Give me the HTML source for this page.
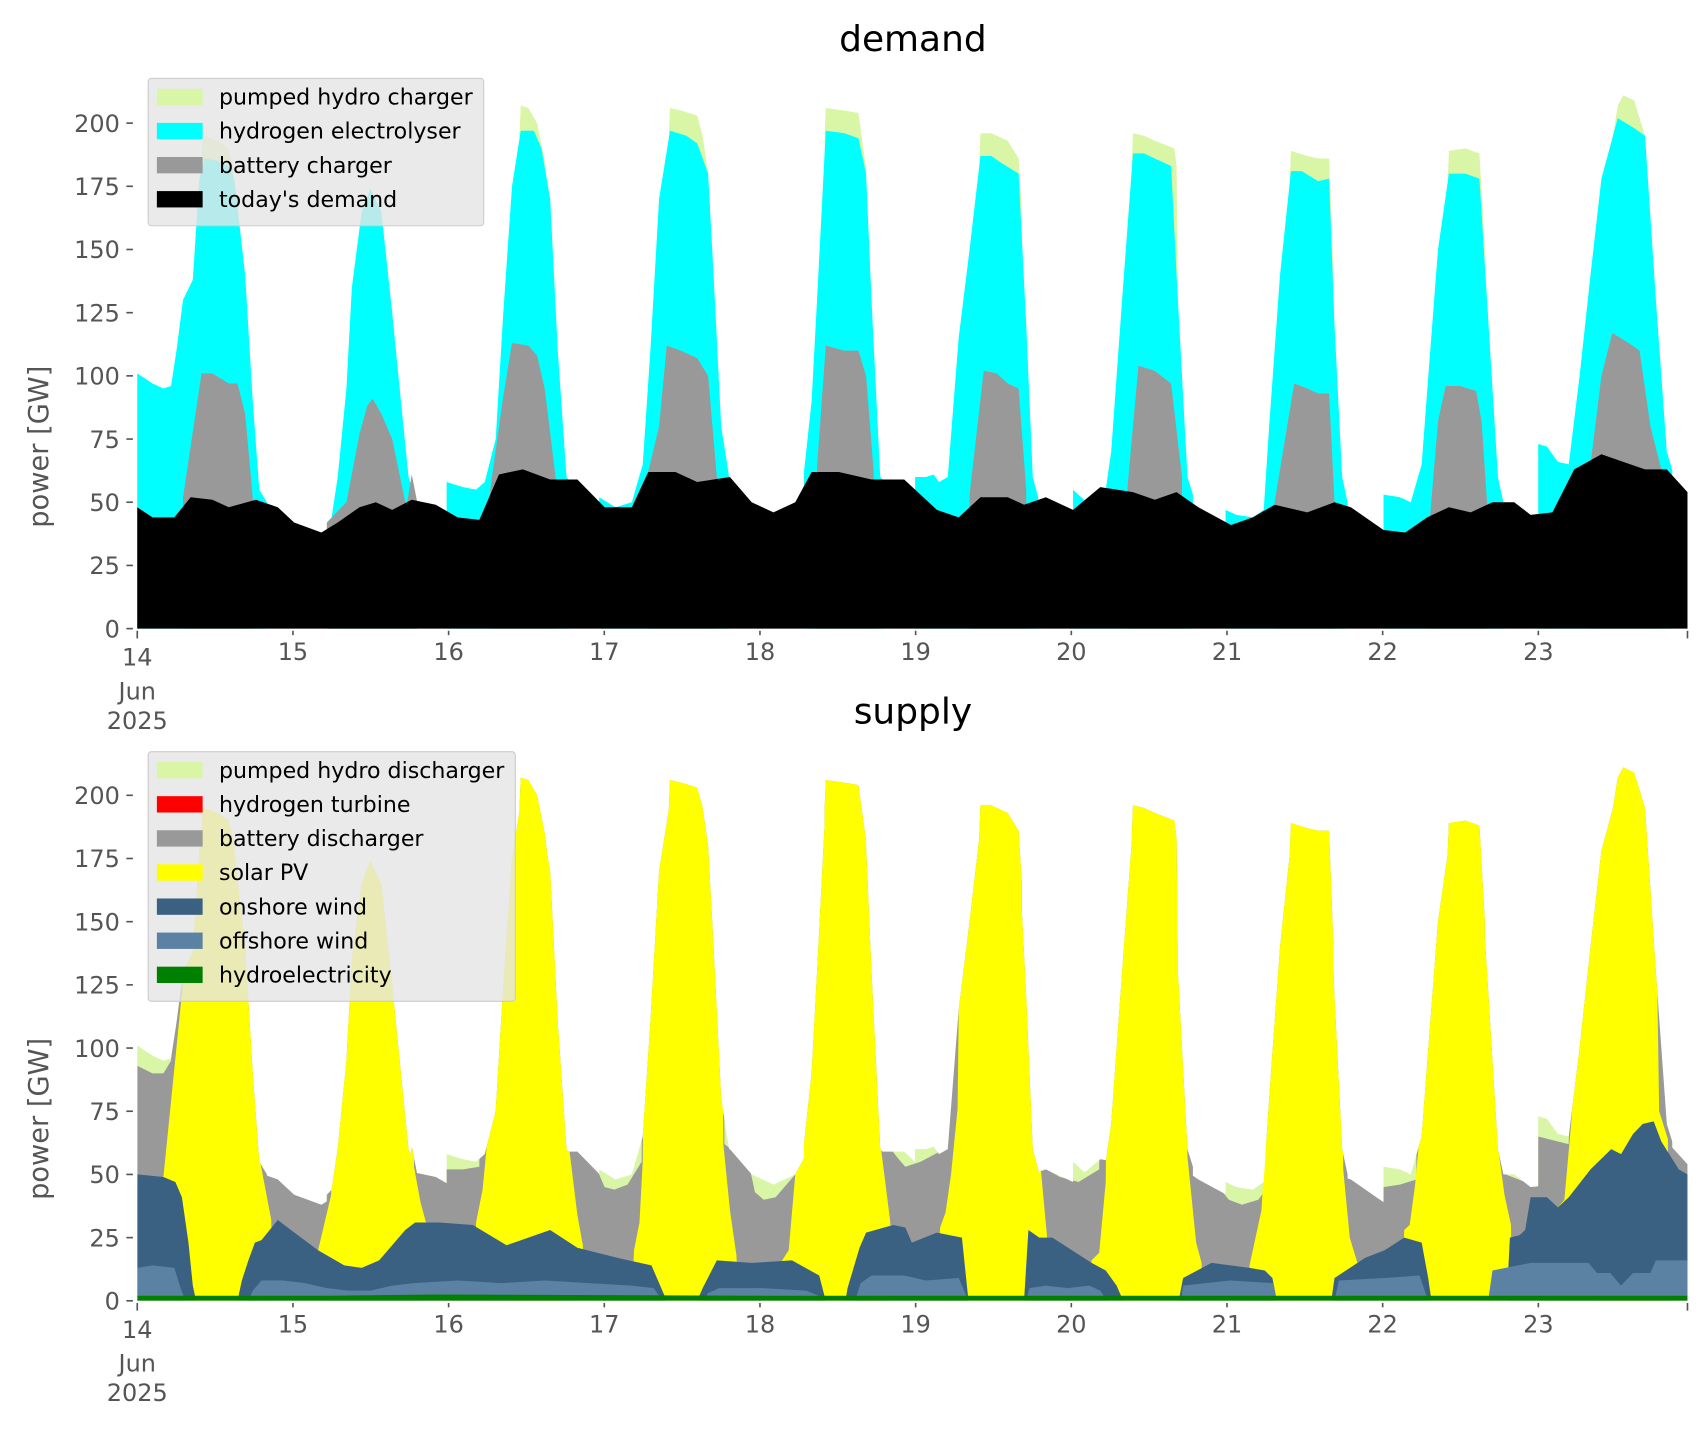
<!DOCTYPE html>
<html><head><meta charset="utf-8"><style>
html,body{margin:0;padding:0;background:#fff;}
svg{display:block;}
text{font-family:"DejaVu Sans","Liberation Sans",sans-serif;}
</style></head><body>
<svg id="s" xmlns="http://www.w3.org/2000/svg" width="1706" height="1431" viewBox="0 0 1566 1313.5" preserveAspectRatio="none"></svg>
<script>
const S=2.32;
function poly(pts,base,fill,extra){
  let p=pts.map(a=>a[0]+','+(base-a[1]*S).toFixed(1));
  p.push(pts[pts.length-1][0]+','+base); p.unshift(pts[0][0]+','+base);
  return `<polygon points="${p.join(' ')}" fill="${fill}" ${extra||''}/>`;
}
const black=[[126,48],[140,44],[160,44],[175,52],[195,51],[210,48],[235,51],[255,48],[270,42],[295,38],[310,42],[330,48],[345,50],[360,47],[378,51],[400,49],[420,44],[440,43],[458,61],[480,63],[505,59],[530,59],[555,48],[580,48],[595,62],[620,62],[640,58],[670,60],[690,50],[710,46],[730,50],[745,62],[770,62],[800,59],[830,59],[860,47],[880,44],[900,52],[925,52],[940,49],[960,52],[985,47],[1010,56],[1040,54],[1060,51],[1080,54],[1100,48],[1130,41],[1150,44],[1170,49],[1200,46],[1225,50],[1240,48],[1270,39],[1290,38],[1310,44],[1330,48],[1350,46],[1370,50],[1390,50],[1405,45],[1425,46],[1445,63],[1470,69],[1490,66],[1510,63],[1530,63],[1549,54]];
const cyan=[
[[126,101],[140,97],[150,95],[157,96],[162,110],[168,130],[177,138],[183,178],[188,186],[200,185],[210,183],[215,178],[225,140],[232,90],[238,55],[245,50]],
[[303,40],[310,60],[318,95],[323,135],[332,165],[340,174],[350,165],[360,125],[368,90],[375,60],[383,49]],
[[410,58],[425,56],[437,55],[445,58],[455,75],[462,125],[470,175],[478,197],[490,197],[497,190],[505,170],[512,110],[520,60],[525,57]],
[[550,52],[565,48],[580,50],[590,65],[597,110],[605,170],[615,197],[630,195],[640,192],[650,180],[655,140],[662,80],[670,58]],
[[738,62],[745,90],[750,130],[758,197],[775,196],[788,194],[795,180],[800,130],[808,60],[812,58]],
[[840,60],[850,60],[857,61],[862,58],[870,60],[880,115],[890,150],[900,187],[910,187],[920,184],[935,180],[942,120],[948,60],[953,52]],
[[985,55],[995,51],[1005,50],[1015,55],[1020,70],[1030,130],[1040,188],[1050,188],[1060,186],[1075,183],[1080,140],[1090,60],[1095,53]],
[[1125,47],[1135,45],[1150,44],[1160,47],[1165,80],[1175,140],[1185,181],[1195,181],[1210,177],[1220,178],[1225,120],[1232,60],[1237,50]],
[[1270,53],[1285,52],[1295,50],[1305,65],[1312,105],[1320,150],[1330,180],[1345,180],[1358,178],[1365,130],[1375,60],[1380,50]],
[[1412,73],[1420,72],[1430,66],[1440,65],[1450,100],[1460,140],[1470,178],[1485,202],[1500,198],[1510,195],[1520,130],[1530,70],[1535,63]]];
const gray=[
[[168,52],[185,101],[195,101],[210,97],[218,97],[225,85],[232,52]],
[[300,42],[318,50],[330,77],[337,88],[342,91],[350,85],[360,75],[373,48],[378,61],[383,50]],
[[450,55],[462,92],[470,113],[485,112],[493,108],[500,95],[510,60]],
[[595,62],[605,80],[612,112],[625,110],[640,107],[650,100],[658,60]],
[[750,64],[758,112],[775,110],[788,110],[795,100],[802,62]],
[[890,53],[903,102],[915,101],[925,97],[935,95],[942,55]],
[[1035,56],[1045,104],[1060,102],[1075,97],[1085,60]],
[[1170,50],[1188,97],[1200,95],[1210,93],[1220,93],[1225,50]],
[[1313,46],[1320,82],[1327,96],[1340,96],[1355,94],[1360,82],[1365,50]],
[[1460,65],[1470,100],[1480,117],[1495,113],[1505,110],[1515,80],[1525,63]]];
const pump=[
[[185,180],[186,195],[200,193],[210,190],[215,180]],
[[477,196],[478,207],[485,206],[493,200],[500,185],[502,178]],
[[614,195],[615,206],[625,205],[640,203],[645,195],[650,180]],
[[757,195],[758,206],[775,205],[788,204],[795,182]],
[[899,185],[900,196],[910,196],[925,193],[935,186],[938,165]],
[[1039,185],[1040,196],[1050,195],[1060,193],[1078,190],[1080,183],[1081,140]],
[[1184,178],[1185,189],[1200,187],[1210,186],[1220,186],[1224,140]],
[[1329,178],[1330,189],[1345,190],[1358,188],[1363,150]],
[[1477,185],[1485,207],[1490,211],[1500,209],[1510,195],[1515,160]]];
const PG='#d9f5a6';
function demandShapes(base,cP,cC,cG,cB,extra){
  let o='';
  pump.forEach(a=>o+=poly(a,base,cP,extra));
  cyan.forEach(a=>o+=poly(a,base,cC,extra));
  gray.forEach(a=>o+=poly(a,base,cG,extra));
  o+=poly(black,base,cB,extra);
  return o;
}
let h='';
h+=`<defs><clipPath id="tot">${demandShapes(1194,'#000','#000','#000','#000','')}</clipPath></defs>`;
h+=demandShapes(577,PG,'#00ffff','#999999','#000000','');
const B=1194;
h+=demandShapes(B,PG,PG,PG,PG,'');
const bgray=[[126,93],[140,90],[150,90],[157,95],[163,140],[168,300],[398,300],[404,52],[425,52],[440,53],[446,300],[540,300],[547,53],[555,45],[564,44],[576,46],[589,55],[592,300],[660,300],[665,62],[687,55],[693,43],[701,40],[712,41],[730,50],[738,300],[805,300],[807,66],[825,56],[831,53],[845,55],[867,60],[872,300],[950,300],[956,53],[973,49],[990,47],[1009,52],[1015,300],[1095,300],[1100,50],[1115,47],[1128,40],[1140,38],[1155,40],[1162,44],[1166,300],[1237,300],[1240,49],[1255,47],[1270,45],[1285,46],[1300,48],[1305,300],[1378,300],[1382,50],[1400,47],[1410,45],[1412,65],[1430,63],[1440,62],[1448,300],[1549,300]];
h+=`<g clip-path="url(#tot)">`+poly(bgray,B,'#999999');
const yel=[
[[148,0],[150,49],[168,126],[172,300],[236,300],[238,57],[249,32],[250,0]],
[[290,0],[292,20],[304,42],[308,300],[376,300],[380,53],[386,39],[391,31],[392,0]],
[[435,0],[437,31],[443,44],[453,89],[458,300],[518,300],[522,62],[530,34],[535,22],[537,0]],
[[580,0],[582,20],[587,31],[590,55],[594,300],[660,300],[664,62],[670,36],[676,18],[678,0]],
[[716,0],[718,16],[724,20],[730,50],[735,300],[803,300],[807,66],[817,32],[822,0]],
[[860,0],[863,29],[868,35],[873,50],[879,76],[885,300],[946,300],[950,65],[955,54],[961,26],[962,0]],
[[1000,0],[1002,16],[1009,19],[1015,47],[1020,300],[1086,300],[1090,57],[1098,23],[1103,15],[1104,0]],
[[1145,0],[1147,14],[1158,36],[1161,59],[1166,300],[1229,300],[1233,52],[1239,25],[1246,15],[1248,0]],
[[1287,0],[1289,28],[1294,30],[1299,46],[1305,74],[1310,300],[1370,300],[1375,61],[1381,42],[1387,30],[1388,0]],
[[1428,0],[1430,37],[1436,40],[1442,69],[1449,111],[1458,153],[1465,300],[1515,300],[1523,75],[1531,64],[1532,0]]];
yel.forEach(a=>h+=poly(a,B,'#ffff00'));
const on=[
[[126,50],[150,49],[161,47],[167,41],[173,23],[177,6],[180,0]],
[[218,0],[222,8],[228,16],[234,23],[240,24],[255,32],[267,28],[292,20],[316,14],[332,13],[348,16],[372,28],[381,31],[403,31],[434,30],[465,22],[505,28],[530,21],[567,17],[598,14],[604,8],[612,0]],
[[640,0],[645,5],[658,16],[690,15],[727,16],[752,10],[758,0]],
[[776,0],[778,5],[789,21],[795,27],[820,30],[831,29],[837,23],[860,27],[883,25],[889,0]],
[[940,0],[944,28],[954,25],[966,25],[1002,15],[1015,12],[1025,6],[1031,0]],
[[1082,0],[1086,9],[1112,15],[1147,13],[1161,12],[1168,9],[1172,0]],
[[1222,0],[1225,9],[1232,11],[1253,17],[1271,20],[1289,25],[1305,23],[1311,9],[1314,0]],
[[1383,0],[1386,25],[1395,26],[1400,28],[1405,41],[1420,41],[1430,37],[1440,41],[1460,52],[1479,60],[1488,58],[1499,66],[1508,70],[1518,71],[1525,63],[1541,52],[1549,50]]];
on.forEach(a=>h+=poly(a,B,'#3b6182'));
const off=[
[[126,13],[140,14],[160,13],[165,6],[170,0]],
[[228,0],[232,4],[240,8],[260,8],[280,7],[300,5],[320,4],[340,4],[360,6],[380,7],[420,8],[460,7],[500,8],[540,7],[580,6],[600,5],[605,2],[612,0]],
[[645,0],[650,3],[660,5],[700,5],[740,4],[757,1],[758,0]],
[[785,0],[790,7],[800,10],[830,10],[850,8],[880,9],[889,0]],
[[942,0],[945,5],[960,6],[980,5],[1000,6],[1010,4],[1016,0]],
[[1084,0],[1086,6],[1129,8],[1169,7],[1172,0]],
[[1225,0],[1229,8],[1271,9],[1303,10],[1311,0]],
[[1366,0],[1370,12],[1405,15],[1458,15],[1466,11],[1478,11],[1488,6],[1499,11],[1515,11],[1520,16],[1549,16]]];
off.forEach(a=>h+=poly(a,B,'#5b82a3'));
h+=poly([[126,2],[300,2],[400,2.5],[700,2],[1000,2],[1300,2],[1549,2]],B,'#008000');
h+='</g>';
function axes(base,title,ty){
  let o=`<text x="838" y="${ty}" font-size="33" text-anchor="middle" fill="#000">${title}</text>`;
  for(let v=0;v<=200;v+=25){const y=base-v*S;
    o+=`<line x1="116" x2="122" y1="${y}" y2="${y}" stroke="#555" stroke-width="1.5"/>`;
    o+=`<text x="110" y="${y+8}" font-size="22" text-anchor="end" fill="#555">${v}</text>`;}
  for(let d=14;d<=23;d++){const x=126+(d-14)*142.9;
    o+=`<line x1="${x}" x2="${x}" y1="${base+2}" y2="${base+(d==14?9:6)}" stroke="#555" stroke-width="1.5"/>`;
    o+=`<text x="${x}" y="${base+(d==14?34:29)}" font-size="22" text-anchor="middle" fill="#555">${d}</text>`;}
  o+=`<line x1="1549" x2="1549" y1="${base+2}" y2="${base+9}" stroke="#555" stroke-width="1.5"/>`;
  o+=`<text x="126" y="${base+65}" font-size="22" text-anchor="middle" fill="#555">Jun</text>`;
  o+=`<text x="126" y="${base+92}" font-size="22" text-anchor="middle" fill="#555">2025</text>`;
  o+=`<text transform="translate(44,${base-167}) rotate(-90)" font-size="25" text-anchor="middle" fill="#555">power [GW]</text>`;
  return o;
}
h+=axes(577,'demand',47);
h+=axes(1194,'supply',664);
function legend(x,y,w,items){
  let o=`<rect x="${x}" y="${y}" width="${w}" height="${items.length*31.3+10}" rx="3" fill="#e5e5e5" fill-opacity="0.8" stroke="#cccccc" stroke-width="1"/>`;
  items.forEach((it,i)=>{const cy=y+17+i*31.3;
    o+=`<rect x="144" y="${cy-7.5}" width="42" height="15" fill="${it[1]}"/>`;
    o+=`<text x="201" y="${cy+7}" font-size="20.3" fill="#000">${it[0]}</text>`;});
  return o;
}
h+=legend(136,72,308,[["pumped hydro charger",PG],["hydrogen electrolyser","#00ffff"],["battery charger","#999999"],["today's demand","#000000"]]);
h+=legend(136,690,337,[["pumped hydro discharger",PG],["hydrogen turbine","#ff0000"],["battery discharger","#999999"],["solar PV","#ffff00"],["onshore wind","#3b6182"],["offshore wind","#5b82a3"],["hydroelectricity","#008000"]]);
document.getElementById('s').innerHTML=h;
</script>
</body></html>
